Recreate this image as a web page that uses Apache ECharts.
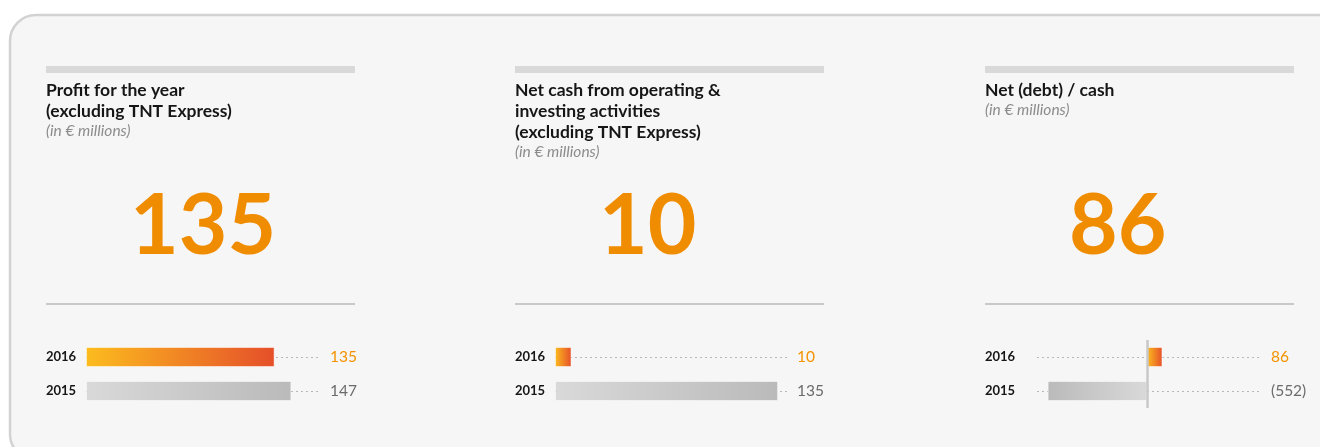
<!DOCTYPE html>
<html>
<head>
<meta charset="utf-8">
<script src="https://cdn.jsdelivr.net/npm/echarts@6/dist/echarts.min.js"></script>
<style>
  html, body { margin: 0; padding: 0; background: #fff; }
  #chart { width: 1320px; height: 447px; }
</style>
</head>
<body>
<div id="chart"></div>
<script>
// data
const years = ['2016', '2015']
const profit = [135, 147]
const netCash = [10, 135]
const netDebt = [86, -552]
const titles = [
  'Profit for the year\n(excluding TNT Express)',
  'Net cash from operating &\ninvesting activities\n(excluding TNT Express)',
  'Net (debt) / cash'
]
const unit = '(in € millions)'

const FONT = 'Lato, "Liberation Sans", sans-serif'
const ORANGE = '#f08c00'

// layout per panel
const panels = [
  { x: 46, values: profit, gridLeft: 86, gridRight: 320, min: 0, max: 167.5, valMargin: 10 },
  { x: 515, values: netCash, gridLeft: 555, gridRight: 790, min: 0, max: 142.2, valMargin: 7 },
  { x: 985, values: netDebt, gridLeft: 1037, gridRight: 1262, min: -611, max: 639, valMargin: 9 }
]

function fmt(v) {
  return v < 0 ? '(' + Math.abs(v) + ')' : String(v)
}

function barColor(idx, v) {
  const stops = idx === 0
    ? ['#fcbc1e', '#e54f2a']
    : ['#d9d9d9', '#bababa']
  const rev = v < 0
  return new echarts.graphic.LinearGradient(rev ? 1 : 0, 0, rev ? 0 : 1, 0, [
    { offset: 0, color: stops[0] },
    { offset: 1, color: stops[1] }
  ])
}

const chart = echarts.init(document.getElementById('chart'))

const grid = [], xAxis = [], yAxis = [], series = [], title = [], graphic = []

graphic.push({
  type: 'rect', shape: { x: 10, y: 15, width: 1340, height: 445, r: 26 },
  style: { fill: '#f6f6f6', stroke: '#d2d2d2', lineWidth: 2.5 }, z: -10
})

panels.forEach((p, i) => {
  graphic.push({
    type: 'rect', shape: { x: p.x, y: 66, width: 309, height: 7 },
    style: { fill: '#d9d9d9' }
  })
  graphic.push({
    type: 'rect', shape: { x: p.x, y: 303, width: 309, height: 2 },
    style: { fill: '#c9c9c9' }
  })

  title.push({
    text: titles[i],
    subtext: unit,
    left: p.x, top: 80, padding: 0, itemGap: 0,
    textStyle: { fontFamily: FONT, fontWeight: 'bold', fontSize: 17.5, lineHeight: 21, color: '#161616' },
    subtextStyle: { fontFamily: FONT, fontStyle: 'italic', fontSize: 15.5, lineHeight: 18, color: '#8c8c8c' }
  })
  title.push({
    text: fmt(p.values[0]),
    left: p.x + 84, top: 185, padding: 0,
    textStyle: { fontFamily: FONT, fontWeight: 'bold', fontSize: 84, lineHeight: 84, color: ORANGE }
  })

  grid.push({ left: p.gridLeft, right: 1320 - p.gridRight, top: 340, height: 68 })
  xAxis.push({ type: 'value', gridIndex: i, min: p.min, max: p.max, show: false })
  yAxis.push({
    type: 'category', gridIndex: i, data: years, inverse: true,
    axisLine: { show: false }, axisTick: { show: false },
    axisLabel: {
      align: 'left', margin: p.gridLeft - p.x,
      fontFamily: FONT, fontWeight: 'bold', fontSize: 13, color: '#161616'
    }
  })
  yAxis.push({
    type: 'category', gridIndex: i, data: years, inverse: true, position: 'right',
    axisLine: { show: false }, axisTick: { show: false },
    axisLabel: {
      margin: p.valMargin, fontFamily: FONT, fontSize: 15.5,
      formatter: (val, idx) => fmt(p.values[idx]),
      color: (val, idx) => idx === 0 ? '#f39200' : '#6b6b6b'
    }
  })

  // dotted tracks behind bars (line series so no bar slot is taken)
  series.push({
    type: 'line', xAxisIndex: i, yAxisIndex: i * 2, data: ['-', '-'], z: 1, silent: true,
    showSymbol: false,
    markLine: {
      z: 1, silent: true, symbol: 'none', animation: false,
      label: { show: false },
      lineStyle: { color: '#b8b8b8', width: 1, type: [2, 3] },
      data: years.map(y => ({ yAxis: y }))
    }
  })

  const main = {
    type: 'bar', xAxisIndex: i, yAxisIndex: i * 2, barWidth: 20, z: 3,
    data: p.values.map((v, k) => ({
      value: v,
      itemStyle: { color: barColor(k, v), borderColor: 'rgba(255,255,255,0.5)', borderWidth: 1 }
    }))
  }
  if (p.min < 0) {
    main.markLine = {
      z: 4, silent: true, symbol: 'none', animation: false,
      label: { show: false },
      lineStyle: { color: '#c8c8c8', width: 2.5, type: 'solid' },
      data: [{ xAxis: 0 }]
    }
  }
  series.push(main)
})

chart.setOption({
  animation: false,
  backgroundColor: '#ffffff',
  graphic,
  title,
  grid,
  xAxis,
  yAxis,
  series
})
</script>
</body>
</html>
